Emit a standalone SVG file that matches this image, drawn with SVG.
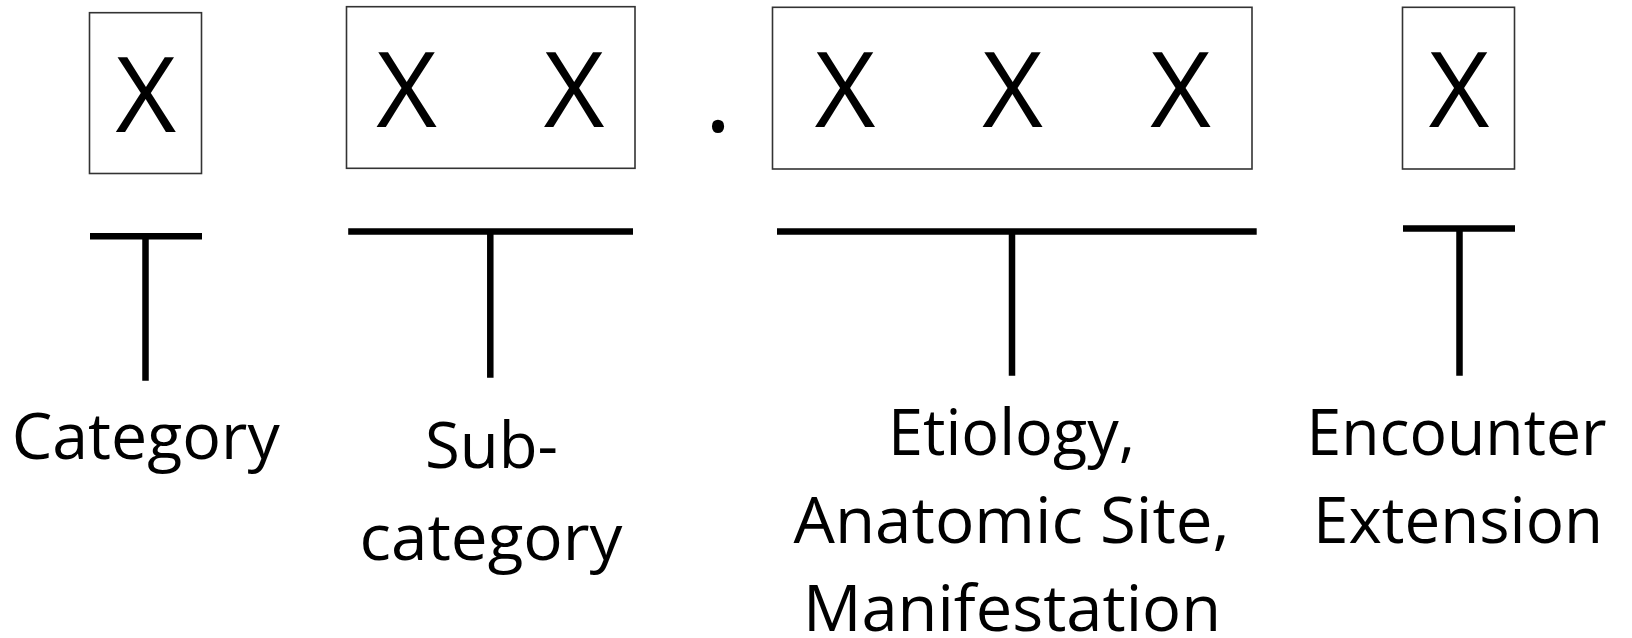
<svg xmlns="http://www.w3.org/2000/svg" width="1632" height="638" viewBox="0 0 1632 638">
<style>
.box{fill:#fff;stroke:#333;stroke-width:1.6}
.bar{stroke:#000;stroke-width:6.5;fill:none}
.x{font-family:"Open Sans","Liberation Sans",sans-serif;font-size:105px;fill:#000;text-anchor:middle}
.lbl{font-family:"Open Sans","Liberation Sans",sans-serif;font-size:64px;fill:#000;text-anchor:middle}
</style>
<rect width="1632" height="638" fill="#fff"/>
<g id="category-box">
<rect class="box" x="89.5" y="12.7" width="112" height="160.8"/>
<text class="x" x="145.8" y="131.7">X</text>
</g>
<g id="subcategory-box">
<rect class="box" x="346.5" y="6.7" width="288.5" height="161.6"/>
<text class="x" x="406.7" y="126.7">X</text>
<text class="x" x="574.1" y="126.7">X</text>
</g>
<g id="decimal-point">
<text class="x" x="718" y="131.5">.</text>
</g>
<g id="etiology-box">
<rect class="box" x="772.5" y="7.3" width="479.5" height="161.7"/>
<text class="x" x="845" y="126.7">X</text>
<text class="x" x="1012.5" y="126.7">X</text>
<text class="x" x="1180.5" y="126.7">X</text>
</g>
<g id="extension-box">
<rect class="box" x="1402.5" y="7.3" width="112" height="161.7"/>
<text class="x" x="1459" y="126.7">X</text>
</g>
<g id="connectors">
<path class="bar" d="M90 236.3H202M145.5 236.3V380.7"/>
<path class="bar" d="M348.2 231.5H633M490.3 231.5V377.7"/>
<path class="bar" d="M777 231.5H1256.7M1012 231.5V375.7"/>
<path class="bar" d="M1403 228.4H1515M1459.5 228.4V375.7"/>
</g>
<g id="label-category">
<text class="lbl" x="145.7" y="459.3" textLength="268" lengthAdjust="spacingAndGlyphs">Category</text>
</g>
<g id="label-subcategory">
<text class="lbl" x="491.5" y="468" textLength="133" lengthAdjust="spacingAndGlyphs">Sub-</text>
<text class="lbl" x="491" y="560" textLength="263" lengthAdjust="spacingAndGlyphs">category</text>
</g>
<g id="label-etiology">
<text class="lbl" x="1011.5" y="455" textLength="247" lengthAdjust="spacingAndGlyphs">Etiology,</text>
<text class="lbl" x="1011.5" y="543" textLength="436" lengthAdjust="spacingAndGlyphs">Anatomic Site,</text>
<text class="lbl" x="1012" y="631" textLength="418" lengthAdjust="spacingAndGlyphs">Manifestation</text>
</g>
<g id="label-encounter">
<text class="lbl" x="1456.5" y="455" textLength="300" lengthAdjust="spacingAndGlyphs">Encounter</text>
<text class="lbl" x="1458" y="543" textLength="290" lengthAdjust="spacingAndGlyphs">Extension</text>
</g>
</svg>
